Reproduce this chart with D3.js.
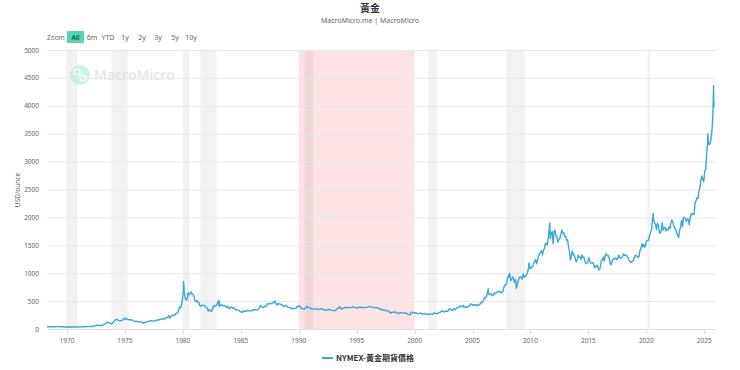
<!DOCTYPE html>
<html><head><meta charset="utf-8">
<script src="https://cdn.jsdelivr.net/npm/d3@7"></script>
<style>
html,body{margin:0;padding:0;background:#fff;}
svg{display:block;font-family:"Noto Sans","Open Sans",sans-serif;}
</style></head>
<body><svg id="c" width="740" height="370"></svg>
<script>
// ---- DATA (monthly) ----
const start1968 = "1968-04";
const prices1968_1979 = [
 38,41,41,39,39,40,40,41,41,
 42,42,43,43,43,41,42,41,41,40,37,35,
 35,35,35,36,36,35,35,35,36,37,37,37,
 38,38,38,39,40,40,41,42,42,42,42,43,
 46,48,48,49,54,63,66,67,65,64,63,64,
 65,74,84,90,102,120,120,106,103,100,94,112,
 130,150,168,172,163,154,143,154,151,158,181,186,
 176,180,178,167,167,166,166,160,141,142,139,140,
 131,132,129,128,126,125,112,104,116,123,130,134,
 132,142,148,149,146,141,143,145,154,162,161,165,
 174,182,181,170,184,183,200,208,217,242,194,226,
 233,251,240,245,274,279,295,315,397,382,415,524
];
const start1980 = "1980-01";
const prices1980s = [
 675,665,554,517,535,653,614,631,666,629,619,589,
 506,489,513,482,480,426,406,426,428,427,414,400,
 384,362,320,350,334,315,343,411,397,423,414,448,
 499,408,414,429,437,412,422,414,405,382,405,382,
 363,394,394,372,384,373,342,348,341,333,329,309,
 306,298,326,322,316,317,327,334,326,325,325,327,
 346,339,344,345,343,345,357,385,423,401,383,391,
 408,401,409,453,451,447,462,453,459,468,492,484,
 458,426,457,449,451,437,437,427,397,412,422,410,
 394,388,383,378,361,373,368,360,366,377,408,401
];
const start1990 = "1990-01";
const prices1990s = [
 415,407,368,367,363,352,372,387,408,380,384,386,
 366,363,355,357,360,368,362,347,354,357,366,353,
 354,353,341,337,337,344,357,340,349,339,334,332,
 330,327,337,354,377,376,402,371,355,369,370,391,
 378,381,389,376,387,386,384,386,395,389,383,383,
 375,376,392,389,385,387,383,383,384,383,387,387,
 405,400,396,392,390,382,385,387,379,379,371,369,
 345,358,349,340,345,334,326,325,333,311,296,290,
 302,297,301,310,293,296,288,273,293,292,294,288,
 285,287,280,286,268,261,255,254,299,300,291,290
];
const start2000 = "2000-01";
const prices2000s = [
 283,293,276,275,272,288,276,278,273,264,270,273,
 265,267,258,264,267,271,265,273,293,278,275,278,
 282,296,301,309,326,318,304,312,323,316,318,347,
 368,348,334,338,364,346,354,375,388,386,398,416,
 400,397,427,388,393,395,391,408,415,428,453,438,
 422,436,427,435,414,437,429,433,473,470,495,517,
 568,556,582,654,643,613,632,623,599,604,646,632,
 650,665,662,679,659,650,665,672,743,789,783,834,
 923,971,934,865,885,930,918,833,884,730,814,869,
 927,942,924,891,980,927,955,956,996,1040,1182,1087
];
const start2010 = "2010-01";
const prices2010s = [
 1081,1118,1113,1180,1207,1244,1169,1246,1307,1346,1383,1405,
 1327,1411,1439,1535,1536,1505,1628,1813,1620,1722,1746,1531,
 1744,1770,1662,1651,1558,1598,1622,1692,1776,1719,1726,1657,
 1664,1588,1598,1469,1394,1234,1314,1396,1326,1323,1253,1202,
 1240,1326,1284,1288,1250,1327,1282,1286,1210,1171,1182,1199,
 1284,1212,1183,1182,1190,1171,1095,1132,1115,1142,1064,1061,
 1118,1234,1234,1290,1214,1322,1351,1309,1316,1276,1178,1152,
 1212,1255,1249,1269,1268,1242,1269,1322,1283,1271,1275,1303,
 1345,1318,1326,1316,1299,1253,1223,1206,1192,1215,1223,1282,
 1321,1316,1298,1284,1305,1413,1427,1529,1472,1513,1464,1523
];
const start2020 = "2020-01";
const prices2020s = [
 1587,1585,1596,1686,1730,1781,1986,1968,1895,1879,1780,1895,
 1848,1734,1715,1769,1906,1770,1817,1818,1757,1784,1775,1829,
 1797,1909,1954,1911,1848,1807,1782,1726,1672,1640,1768,1826,
 1945,1837,1986,1999,1982,1929,1970,1966,1870,1994,2057,2072,
 2053,2054,2254,2303,2346,2339,2473,2527,2659,2744,2681,2641,
 2835,2858,3150,3320,3315,3307,3348,3473,3680
];
// intra-month peaks/troughs visible in the picture
const extraDates  = ["1974-12-30","1980-01-21","1983-02-15","1987-12-14","2006-05-12","2008-03-17","2011-09-06","2020-08-06","2025-04-22","2025-09-30","2025-10-08","2025-10-20","2025-10-28","2025-11-05"];
const extraPrices = [197,850,510,500,720,1000,1900,2070,3500,3870,4050,4360,3980,4060];

const recessions = [["1969-12-01","1970-11-30"],["1973-11-01","1975-03-31"],["1980-01-01","1980-07-31"],["1981-07-01","1982-11-30"],["1990-07-01","1991-03-31"],["2001-03-01","2001-11-30"],["2007-12-01","2009-06-30"],["2020-02-01","2020-04-30"]];
const highlightBand = ["1990-01-01","2000-01-01"];
const yTicks = [0,500,1000,1500,2000,2500,3000,3500,4000,4500,5000];
const xTickYears = [1970,1975,1980,1985,1990,1995,2000,2005,2010,2015,2020,2025];
const zoomButtons = ["All","6m","YTD","1y","2y","3y","5y","10y"];
const titleText = "黃金";
const subtitleText = "MacroMicro.me | MacroMicro";
const yTitle = "USD/ounce";
const seriesName = "NYMEX-黃金期貨價格";

// ---- BUILD ----
const parseM = d3.timeParse("%Y-%m");
const parseD = d3.timeParse("%Y-%m-%d");
function monthly(startStr, arr){
  const s = parseM(startStr);
  return arr.map((v,i)=>({date:d3.timeDay.offset(d3.timeMonth.offset(s,i),14), value:v}));
}
let data = [].concat(
  monthly(start1968,prices1968_1979), monthly(start1980,prices1980s),
  monthly(start1990,prices1990s), monthly(start2000,prices2000s),
  monthly(start2010,prices2010s), monthly(start2020,prices2020s),
  extraDates.map((d,i)=>({date:parseD(d), value:extraPrices[i]}))
);
data.sort((a,b)=>a.date-b.date);
data[0].date = parseD("1968-04-10");

const svg = d3.select("#c");
const L=47, R=716, T=50, B=329;
const x = d3.scaleTime().domain([parseD("1968-04-10"), parseD("2026-01-05")]).range([L,R]);
const y = d3.scaleLinear().domain([0,5000]).range([B,T]);

// title
svg.append("text").attr("x",370).attr("y",12).attr("text-anchor","middle")
  .attr("font-family","'Noto Sans CJK TC',sans-serif").attr("font-weight","bold")
  .attr("font-size",10).attr("fill","#333").text(titleText);
svg.append("text").attr("x",370).attr("y",23).attr("text-anchor","middle")
  .attr("font-size",7).attr("fill","#666").text(subtitleText);

// zoom buttons
svg.append("text").attr("x",47).attr("y",40).attr("font-size",6.5).attr("fill","#666").text("Zoom");
const btnX = [75.5,92,108,125,142,158,175,191];
zoomButtons.forEach((b,i)=>{
  if(i===0){
    svg.append("rect").attr("x",btnX[i]-8.5).attr("y",31).attr("width",17).attr("height",12).attr("fill","#4fd8b4");
  }
  svg.append("text").attr("x",btnX[i]).attr("y",40).attr("text-anchor","middle")
    .attr("font-size",7).attr("fill",i===0?"#222":"#666").text(b);
});

// bands
svg.append("rect").attr("x",x(parseD(highlightBand[0]))).attr("y",T)
  .attr("width",x(parseD(highlightBand[1]))-x(parseD(highlightBand[0]))).attr("height",B-T)
  .attr("fill","#fde3e3");
svg.selectAll(".rec").data(recessions).join("rect")
  .attr("x",d=>x(parseD(d[0]))).attr("y",T)
  .attr("width",d=>x(parseD(d[1]))-x(parseD(d[0]))).attr("height",B-T)
  .attr("fill","rgba(0,0,0,0.05)");

// watermark
const wm = svg.append("g").attr("opacity",0.55);
wm.append("circle").attr("cx",80).attr("cy",75).attr("r",10).attr("fill","#a8e9d4");
wm.append("circle").attr("cx",77).attr("cy",72).attr("r",3).attr("fill","none").attr("stroke","#fff").attr("stroke-width",1.2);
wm.append("circle").attr("cx",83).attr("cy",78).attr("r",3).attr("fill","none").attr("stroke","#fff").attr("stroke-width",1.2);
wm.append("text").attr("x",94).attr("y",80).attr("font-size",14).attr("font-weight","600")
  .attr("fill","#d4d4d4").attr("font-family","'Open Sans',sans-serif").text("MacroMicro");

// grid + y axis labels
svg.selectAll(".grid").data(yTicks).join("line")
  .attr("x1",L).attr("x2",R).attr("y1",d=>y(d)+0.5).attr("y2",d=>y(d)+0.5)
  .attr("stroke","#e8e8e8").attr("stroke-width",1);
svg.selectAll(".yl").data(yTicks).join("text")
  .attr("x",39).attr("y",d=>y(d)+2.5).attr("text-anchor","end")
  .attr("font-size",6.5).attr("fill","#666").text(d=>d);
svg.append("text").attr("transform","translate(20,190) rotate(-90)").attr("text-anchor","middle")
  .attr("font-size",6.5).attr("fill","#666").text(yTitle);

// x axis
const xTicks = xTickYears.map(yy=>new Date(yy,0,1));
svg.append("line").attr("x1",L).attr("x2",R).attr("y1",B+0.5).attr("y2",B+0.5).attr("stroke","#e0e0e0");
svg.selectAll(".xt").data(xTicks).join("line")
  .attr("x1",d=>Math.round(x(d))+0.5).attr("x2",d=>Math.round(x(d))+0.5).attr("y1",B).attr("y2",B+5)
  .attr("stroke","#e0e0e0");
svg.selectAll(".xl").data(xTicks).join("text")
  .attr("x",d=>x(d)).attr("y",B+14).attr("text-anchor","middle")
  .attr("font-size",6.5).attr("fill","#666").text(d=>d.getFullYear());

// line
const line = d3.line().x(d=>x(d.date)).y(d=>y(d.value));
svg.append("path").datum(data).attr("d",line).attr("fill","none")
  .attr("stroke","#3aa8d8").attr("stroke-width",1.4).attr("stroke-linejoin","round");

// legend
svg.append("line").attr("x1",322).attr("x2",333).attr("y1",358).attr("y2",358).attr("stroke","#3aa8d8").attr("stroke-width",2);
svg.append("text").attr("x",336).attr("y",361).attr("font-size",8).attr("font-weight","bold")
  .attr("font-family","'Noto Sans CJK TC',sans-serif").attr("fill","#333").text(seriesName);
</script></body></html>
